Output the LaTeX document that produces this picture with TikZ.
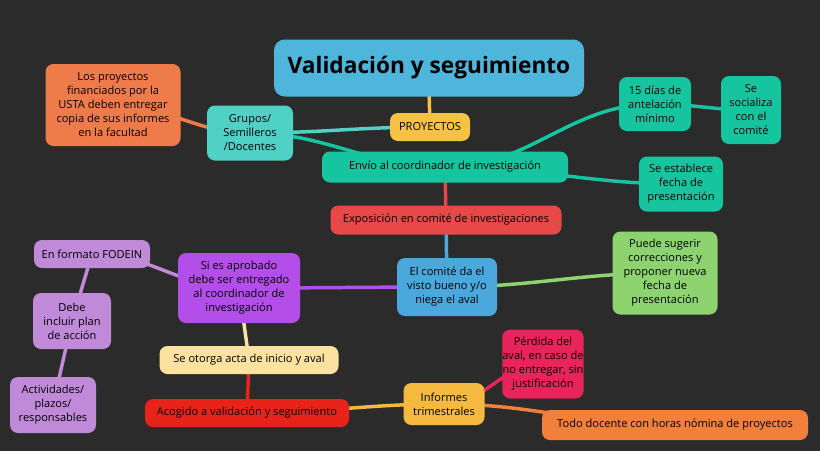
\documentclass[tikz,border=0pt]{standalone}
\usepackage{fontspec}
\setmainfont{Open Sans}
\definecolor{bg}{HTML}{2B2B2B}
\definecolor{cblue}{HTML}{4DB6DA}
\definecolor{cyel}{HTML}{F5C243}
\definecolor{cteal}{HTML}{4FD1C5}
\definecolor{corg}{HTML}{F07B4A}
\definecolor{cgreen}{HTML}{17C4A0}
\definecolor{cred}{HTML}{E84848}
\definecolor{cblue2}{HTML}{4AA8DC}
\definecolor{clgreen}{HTML}{8DD36F}
\definecolor{cpurp}{HTML}{B44EE8}
\definecolor{clil}{HTML}{C08AD8}
\definecolor{cpale}{HTML}{FBE2A0}
\definecolor{cred2}{HTML}{E8231A}
\definecolor{cyel2}{HTML}{F5B940}
\definecolor{ccrim}{HTML}{E8245A}
\definecolor{corg2}{HTML}{F0803A}
\begin{document}
\begin{tikzpicture}[x=0.75pt,y=-0.75pt,
  box/.style={rounded corners=6pt,align=center,font=\fontsize{8.3}{10.5}\selectfont,text=black,inner sep=0pt},
  lk/.style={line width=2.6pt}]
\fill[bg] (0,0) rectangle (820,451);
\useasboundingbox (0,0) rectangle (820,451);
\def\bx#1#2#3#4#5#6#7{\node[box,fill=#6,minimum width=#3*0.75pt,minimum height=#4*0.75pt] (#5) at (#1,#2) {#7};}
\coordinate (t) at (429,90);
\coordinate (p) at (430,127);
\coordinate (g) at (250,133);
\coordinate (e) at (445,167);
\coordinate (q) at (655,104);
\coordinate (x) at (446,220);
\coordinate (c) at (447,287);
\coordinate (s) at (239,288);
\coordinate (f) at (92,254);
\coordinate (d) at (72,321);
\coordinate (o) at (249,360);
\coordinate (a) at (247,413);
\coordinate (i) at (444,404);
\draw[lk,cyel] (t) -- (p);
\draw[lk,cteal] (p) to[out=180,in=0] (g);
\draw[lk,corg] (g) to[out=180,in=0] (113,105);
\draw[lk,cgreen] (g) to[out=0,in=180] (e);
\draw[lk,cgreen] (e) to[out=0,in=180] (q);
\draw[lk,cgreen] (q) to[out=0,in=180] (751,110);
\draw[lk,cgreen] (e) to[out=0,in=180] (681,184);
\draw[lk,cred] (e) -- (x);
\draw[lk,cblue2] (x) -- (c);
\draw[lk,clgreen] (c) to[out=0,in=180] (665,273);
\draw[lk,cpurp] (c) to[out=180,in=0] (s);
\draw[lk,clil] (s) to[out=180,in=0] (f);
\draw[lk,clil] (f) -- (d);
\draw[lk,clil] (d) -- (53,405);
\draw[lk,cpale] (s) -- (o);
\draw[lk,cred2] (o) -- (a);
\draw[lk,cyel2] (a) to[out=0,in=180] (i);
\draw[lk,ccrim] (i) to[out=0,in=180] (543,364);
\draw[lk,corg2] (i) to[out=0,in=180] (675,425);
\node[box,fill=cblue,minimum width=232.5pt,minimum height=42.75pt,rounded corners=8pt,font=\fontsize{17}{20}\selectfont\bfseries] (title) at (429,68) {Validación y seguimiento};
\bx{430}{127}{80}{28}{proy}{cyel}{PROYECTOS}
\bx{250}{133}{86}{55}{grup}{cteal}{Grupos/\\Semilleros\\/Docentes}
\bx{113}{105}{135}{82}{los}{corg}{Los proyectos\\financiados por la\\USTA deben entregar\\copia de sus informes\\en la facultad}
\bx{445}{167}{246}{31}{env}{cgreen}{Envío al coordinador de investigación}
\bx{655}{104}{72}{54}{quin}{cgreen}{15 días de\\antelación\\mínimo}
\bx{751}{110}{60}{68}{soc}{cgreen}{Se\\socializa\\con el\\comité}
\bx{681}{184}{84}{55}{est}{cgreen}{Se establece\\fecha de\\presentación}
\bx{446}{220}{231}{29}{exp}{cred}{Exposición en comité de investigaciones}
\bx{447}{287}{100}{58}{com}{cblue2}{El comité da el\\visto bueno y/o\\niega el aval}
\bx{665}{273}{105}{83}{pue}{clgreen}{Puede sugerir\\correcciones y\\proponer nueva\\fecha de\\presentación}
\bx{239}{288}{122}{70}{si}{cpurp}{Si es aprobado\\debe ser entregado\\al coordinador de\\investigación}
\bx{92}{254}{116}{28}{fod}{clil}{En formato FODEIN}
\bx{72}{321}{78}{56}{deb}{clil}{Debe\\incluir plan\\de acción}
\bx{53}{405}{86}{56}{act}{clil}{Actividades/\\plazos/\\responsables}
\bx{249}{360}{179}{28}{oto}{cpale}{Se otorga acta de inicio y aval}
\bx{247}{413}{204}{28}{aco}{cred2}{Acogido a validación y seguimiento}
\bx{444}{404}{81}{42}{inf}{cyel2}{Informes\\trimestrales}
\bx{543}{364}{79}{69}{per}{ccrim}{Pérdida del\\aval, en caso de\\no entregar, sin\\justificación}
\bx{675}{425}{266}{30}{todo}{corg2}{Todo docente con horas nómina de proyectos}
\end{tikzpicture}
\end{document}
